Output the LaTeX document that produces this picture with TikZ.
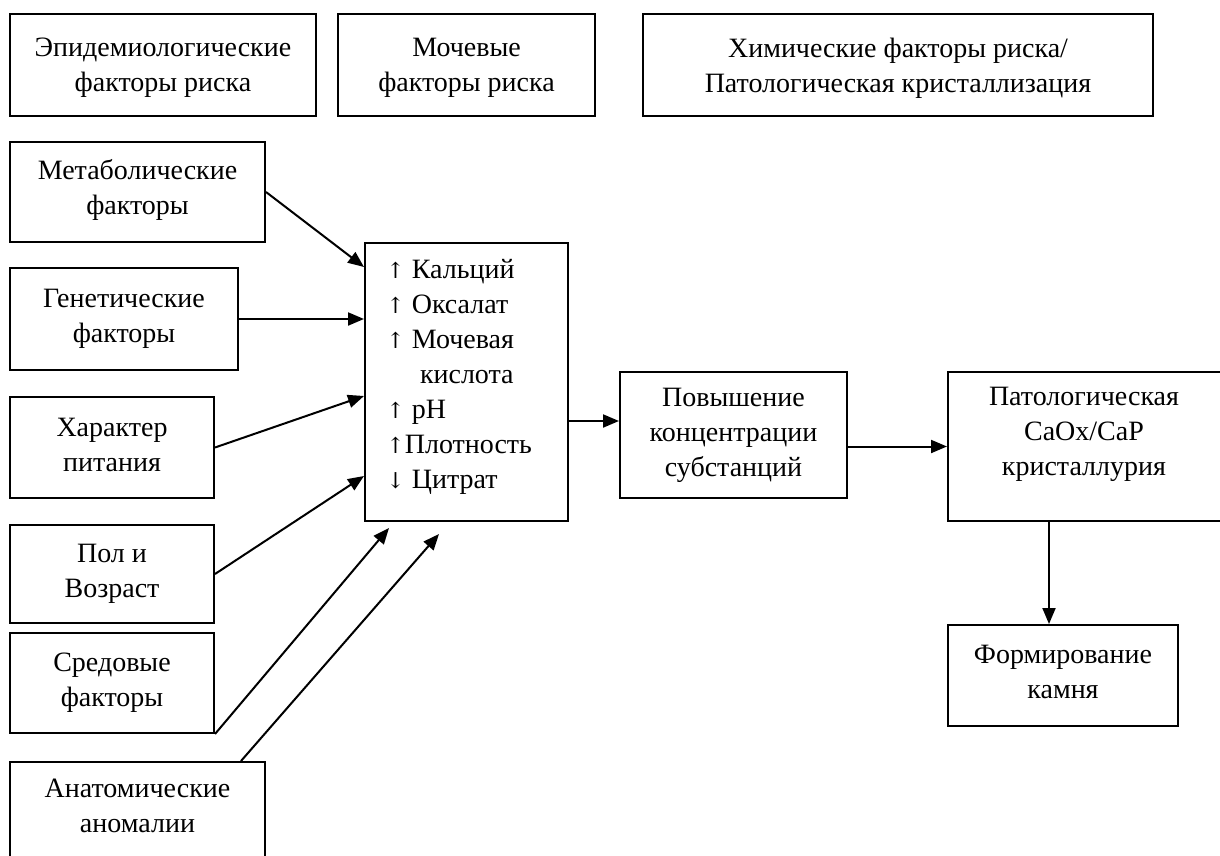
\documentclass[tikz,border=0pt]{standalone}
\usepackage{fontspec}
\setmainfont{Liberation Serif}
\newfontfamily\arrowfont{DejaVu Serif}
\usetikzlibrary{arrows.meta,fit,calc}
\tikzset{
  box/.style={draw, line width=1pt, inner sep=0pt},
  txt/.style={inner sep=0pt, align=center, font=\fontsize{14}{17.5}\selectfont},
  conn/.style={line width=1pt, -{Triangle[length=8pt,width=6.5pt]}},
}
\newcommand{\up}{{\arrowfont\fontsize{11}{17.5}\selectfont ↑}}
\newcommand{\dn}{{\arrowfont\fontsize{11}{17.5}\selectfont ↓}}
\begin{document}
\begin{tikzpicture}[x=0.5pt,y=-0.5pt]
\useasboundingbox (0,0) rectangle (1220,856);

% header row
\node[box, fit={(10,14) (316,116)}] (epi) {};
\node[txt] (epit) at ([yshift=-1.5pt]epi.center) {Эпидемиологические\\факторы риска};
\node[box, fit={(338,14) (595,116)}] (uri) {};
\node[txt] (urit) at ([yshift=-1.5pt]uri.center) {Мочевые\\факторы риска};
\node[box, fit={(643,14) (1153,116)}] (chem) {};
\node[txt] (chemt) at ([yshift=-1.5pt]chem.center) {Химические факторы риска/\\Патологическая кристаллизация};

% risk factors column
\node[box, fit={(10,142) (265,242)}] (met) {};
\node[txt] (mett) at ([yshift=1pt]met.center) {Метаболические\\факторы};
\node[box, fit={(10,268) (238,370)}] (gen) {};
\node[txt] (gent) at (gen.center) {Генетические\\факторы};
\node[box, fit={(10,397) (214,498)}] (chr) {};
\node[txt] (chrt) at ([yshift=1.5pt]chr.center) {Характер\\питания};
\node[box, fit={(10,525) (214,623)}] (pol) {};
\node[txt] (polt) at (pol.center) {Пол и\\Возраст};
\node[box, fit={(10,633) (214,733)}] (env) {};
\node[txt] (envt) at (env.center) {Средовые\\факторы};
\node[box, fit={(10,762) (265,862)}] (ana) {};
\node[txt] (anat) at ([yshift=3pt]ana.center) {Анатомические\\аномалии};

% urinary changes
\node[box, fit={(365,243) (568,521)}] (cen) {};
\node[txt, align=left, anchor=north west] (cent) at ([xshift=11pt,yshift=-8.5pt]cen.north west)
  {\up\ Кальций\\\up\ Оксалат\\\up\ Мочевая\\\hspace*{1.2em}кислота\\\up\ pH\\\up Плотность\\\dn\ Цитрат};

% consequences
\node[box, fit={(620,372) (847,498)}] (pov) {};
\node[txt] (povt) at (pov.center) {Повышение\\концентрации\\субстанций};
\node[box, fit={(948,372) (1224,521)}] (pat) {};
\node[txt] (patt) at ([xshift=-1pt,yshift=6pt]pat.center) {Патологическая\\CaOx/CaP\\кристаллурия};
\node[box, fit={(948,625) (1178,726)}] (frm) {};
\node[txt] (frmt) at ([yshift=2pt]frm.center) {Формирование\\камня};

% connectors
\draw[conn] (met.east) -- ([yshift=-12.5pt]cen.north west);
\draw[conn] (gen.east) -- (gen.east -| cen.west);
\draw[conn] (chr.east) -- ([yshift=-77pt]cen.north west);
\draw[conn] (pol.east) -- ([yshift=-117pt]cen.north west);
\draw[conn] (env.south east) -- ([xshift=12.5pt,yshift=-3pt]cen.south west);
\draw[conn] ([xshift=-12.5pt]ana.north east) -- ([xshift=37.5pt,yshift=-6pt]cen.south west);
\coordinate (pin) at ([yshift=-25pt]pov.north west);
\draw[conn] (pin -| cen.east) -- (pin);
\draw[conn] (pat.west -| pov.east) -- (pat.west);
\coordinate (pdn) at ([xshift=51pt]pat.south west);
\draw[conn] (pdn) -- (pdn |- frm.north);
\end{tikzpicture}
\end{document}
